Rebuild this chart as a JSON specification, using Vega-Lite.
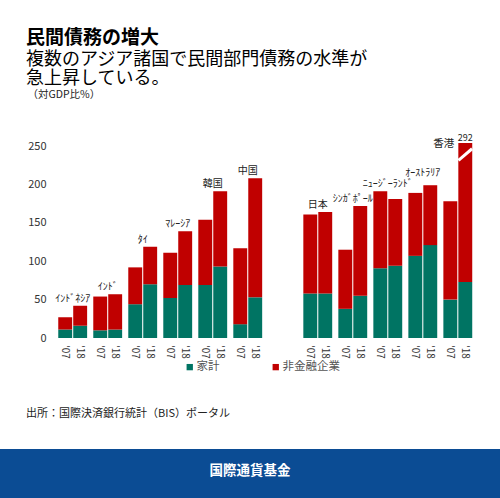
{
  "$schema": "https://vega.github.io/schema/vega-lite/v6.json",
  "padding": {"left": 0, "right": 0, "top": 29, "bottom": 0},
  "background": "white",
  "spacing": 49,
  "config": {
    "font": "Noto Sans CJK JP",
    "view": {"stroke": null},
    "axisY": {
      "labelOverlap": false,
      "offset": -55,
      "domain": false,
      "ticks": false,
      "grid": false,
      "labelPadding": 9,
      "labelFontSize": 11,
      "labelColor": "#333",
      "titleAngle": 0,
      "titleAlign": "left",
      "titleBaseline": "alphabetic",
      "titleX": -28,
      "titleY": -46,
      "titleFontSize": 10.5,
      "titleFontWeight": "normal",
      "titleColor": "#222"
    }
  },
  "vconcat": [
    {
      "width": 484,
      "height": 195,
      "view": {"fill": "white", "stroke": null},
      "title": {
        "text": "民間債務の増大",
        "subtitle": ["複数のアジア諸国で民間部門債務の水準が", "急上昇している。"],
        "anchor": "start",
        "frame": "group",
        "dx": 26,
        "offset": 1,
        "fontSize": 19,
        "fontWeight": "bold",
        "color": "#000",
        "subtitleFontSize": 18,
        "subtitleColor": "#000",
        "subtitleLineHeight": 19,
        "subtitlePadding": 3
      },
      "data": {
        "values": [
          {"country": "ｲﾝﾄﾞﾈｼｱ", "year": "'07", "type": "家計", "value": 11},
          {"country": "ｲﾝﾄﾞﾈｼｱ", "year": "'07", "type": "非金融企業", "value": 16},
          {"country": "ｲﾝﾄﾞﾈｼｱ", "year": "'18", "type": "家計", "value": 16},
          {"country": "ｲﾝﾄﾞﾈｼｱ", "year": "'18", "type": "非金融企業", "value": 26},
          {"country": "ｲﾝﾄﾞ", "year": "'07", "type": "家計", "value": 10},
          {"country": "ｲﾝﾄﾞ", "year": "'07", "type": "非金融企業", "value": 44},
          {"country": "ｲﾝﾄﾞ", "year": "'18", "type": "家計", "value": 11},
          {"country": "ｲﾝﾄﾞ", "year": "'18", "type": "非金融企業", "value": 46},
          {"country": "ﾀｲ", "year": "'07", "type": "家計", "value": 44},
          {"country": "ﾀｲ", "year": "'07", "type": "非金融企業", "value": 48},
          {"country": "ﾀｲ", "year": "'18", "type": "家計", "value": 70},
          {"country": "ﾀｲ", "year": "'18", "type": "非金融企業", "value": 49},
          {"country": "ﾏﾚｰｼｱ", "year": "'07", "type": "家計", "value": 52},
          {"country": "ﾏﾚｰｼｱ", "year": "'07", "type": "非金融企業", "value": 59},
          {"country": "ﾏﾚｰｼｱ", "year": "'18", "type": "家計", "value": 69},
          {"country": "ﾏﾚｰｼｱ", "year": "'18", "type": "非金融企業", "value": 70},
          {"country": "韓国", "year": "'07", "type": "家計", "value": 69},
          {"country": "韓国", "year": "'07", "type": "非金融企業", "value": 85},
          {"country": "韓国", "year": "'18", "type": "家計", "value": 93},
          {"country": "韓国", "year": "'18", "type": "非金融企業", "value": 98},
          {"country": "中国", "year": "'07", "type": "家計", "value": 18},
          {"country": "中国", "year": "'07", "type": "非金融企業", "value": 99},
          {"country": "中国", "year": "'18", "type": "家計", "value": 53},
          {"country": "中国", "year": "'18", "type": "非金融企業", "value": 155},
          {"country": "日本", "year": "'07", "type": "家計", "value": 58},
          {"country": "日本", "year": "'07", "type": "非金融企業", "value": 103},
          {"country": "日本", "year": "'18", "type": "家計", "value": 58},
          {"country": "日本", "year": "'18", "type": "非金融企業", "value": 106},
          {"country": "ｼﾝｶﾞﾎﾟｰﾙ", "year": "'07", "type": "家計", "value": 38},
          {"country": "ｼﾝｶﾞﾎﾟｰﾙ", "year": "'07", "type": "非金融企業", "value": 77},
          {"country": "ｼﾝｶﾞﾎﾟｰﾙ", "year": "'18", "type": "家計", "value": 55},
          {"country": "ｼﾝｶﾞﾎﾟｰﾙ", "year": "'18", "type": "非金融企業", "value": 117},
          {"country": "ﾆｭｰｼﾞｰﾗﾝﾄﾞ", "year": "'07", "type": "家計", "value": 91},
          {"country": "ﾆｭｰｼﾞｰﾗﾝﾄﾞ", "year": "'07", "type": "非金融企業", "value": 100},
          {"country": "ﾆｭｰｼﾞｰﾗﾝﾄﾞ", "year": "'18", "type": "家計", "value": 94},
          {"country": "ﾆｭｰｼﾞｰﾗﾝﾄﾞ", "year": "'18", "type": "非金融企業", "value": 87},
          {"country": "ｵｰｽﾄﾗﾘｱ", "year": "'07", "type": "家計", "value": 107},
          {"country": "ｵｰｽﾄﾗﾘｱ", "year": "'07", "type": "非金融企業", "value": 82},
          {"country": "ｵｰｽﾄﾗﾘｱ", "year": "'18", "type": "家計", "value": 121},
          {"country": "ｵｰｽﾄﾗﾘｱ", "year": "'18", "type": "非金融企業", "value": 78},
          {"country": "香港", "year": "'07", "type": "家計", "value": 50},
          {"country": "香港", "year": "'07", "type": "非金融企業", "value": 128},
          {"country": "香港", "year": "'18", "type": "家計", "value": 73},
          {"country": "香港", "year": "'18", "type": "非金融企業", "value": 219}
        ]
      },
      "encoding": {
        "x": {
          "field": "country",
          "type": "nominal",
          "sort": null,
          "axis": null,
          "scale": {
            "domain": ["ｲﾝﾄﾞﾈｼｱ", "ｲﾝﾄﾞ", "ﾀｲ", "ﾏﾚｰｼｱ", "韓国", "中国", " ", "日本", "ｼﾝｶﾞﾎﾟｰﾙ", "ﾆｭｰｼﾞｰﾗﾝﾄﾞ", "ｵｰｽﾄﾗﾘｱ", "香港"],
            "paddingInner": 0.1755,
            "paddingOuter": 1.195,
            "align": 0.832
          }
        },
        "y": {
          "aggregate": "sum",
          "field": "value",
          "type": "quantitative",
          "title": "（対GDP比%）",
          "scale": {"domain": [0, 254], "nice": false, "clamp": true},
          "axis": {"values": [0, 50, 100, 150, 200, 250], "labelOverlap": false}
        }
      },
      "layer": [
        {
          "mark": {"type": "bar"},
          "encoding": {
            "xOffset": {"field": "year", "type": "nominal", "scale": {"paddingInner": 0.07, "paddingOuter": 0}},
            "color": {
              "field": "type",
              "type": "nominal",
              "scale": {"domain": ["家計", "非金融企業"], "range": ["#007463", "#c00000"]},
              "legend": {
                "orient": "none",
                "legendX": 184,
                "legendY": 218,
                "direction": "horizontal",
                "title": null,
                "symbolType": "square",
                "symbolSize": 40,
                "symbolStrokeWidth": 0,
                "labelFontSize": 11.5,
                "labelColor": "#555",
                "labelOffset": 1,
                "columnPadding": 50,
                "padding": 0
              }
            },
            "order": {"field": "type", "sort": "ascending"}
          }
        },
        {
          "transform": [{"filter": "datum.type === '家計'"}],
          "mark": {"type": "text", "angle": 90, "align": "left", "baseline": "middle", "dx": 7, "fontSize": 10, "color": "#333"},
          "encoding": {
            "xOffset": {"field": "year", "type": "nominal"},
            "y": {"datum": 0, "type": "quantitative"},
            "text": {"field": "year"}
          }
        },
        {
          "transform": [
            {"aggregate": [{"op": "sum", "field": "value", "as": "total"}], "groupby": ["country", "year"]},
            {"aggregate": [{"op": "max", "field": "total", "as": "top"}], "groupby": ["country"]},
            {"filter": "datum.country !== '香港' && datum.country !== 'ｵｰｽﾄﾗﾘｱ'"}
          ],
          "mark": {"type": "text", "baseline": "bottom", "dy": -2, "fontSize": 10, "color": "#222"},
          "encoding": {
            "y": {"field": "top", "type": "quantitative"},
            "text": {"field": "country"}
          }
        },
        {
          "transform": [
            {"aggregate": [{"op": "sum", "field": "value", "as": "total"}], "groupby": ["country", "year"]},
            {"aggregate": [{"op": "max", "field": "total", "as": "top"}], "groupby": ["country"]},
            {"filter": "datum.country === 'ｵｰｽﾄﾗﾘｱ'"}
          ],
          "mark": {"type": "text", "baseline": "bottom", "dy": -7, "fontSize": 10, "color": "#222"},
          "encoding": {
            "y": {"field": "top", "type": "quantitative"},
            "text": {"field": "country"}
          }
        },
        {
          "transform": [
            {"aggregate": [{"op": "sum", "field": "value", "as": "total"}], "groupby": ["country", "year"]},
            {"filter": "datum.country === '香港' && datum.year === \"'18\""}
          ],
          "mark": {"type": "text", "align": "right", "baseline": "middle", "dx": -11, "dy": 1, "fontSize": 10.5, "color": "#222"},
          "encoding": {
            "xOffset": {"field": "year", "type": "nominal"},
            "y": {"field": "total", "type": "quantitative"},
            "text": {"field": "country"}
          }
        },
        {
          "transform": [
            {"aggregate": [{"op": "sum", "field": "value", "as": "total"}], "groupby": ["country", "year"]},
            {"filter": "datum.country === '香港' && datum.year === \"'18\""}
          ],
          "mark": {"type": "text", "baseline": "bottom", "dy": 0, "fontSize": 9, "color": "#222"},
          "encoding": {
            "xOffset": {"field": "year", "type": "nominal"},
            "y": {"field": "total", "type": "quantitative"},
            "text": {"field": "total"}
          }
        },
        {
          "transform": [
            {"filter": "datum.country === '香港' && datum.year === \"'18\" && datum.type === '家計'"}
          ],
          "mark": {"type": "point", "shape": "M -1 0.85 L 1 -0.85", "size": 185, "filled": false, "stroke": "white", "strokeWidth": 3, "opacity": 1},
          "encoding": {
            "xOffset": {"field": "year", "type": "nominal"},
            "y": {"datum": 239, "type": "quantitative"}
          }
        }
      ]
    },
    {
      "width": 500,
      "height": 50,
      "title": {
        "text": "出所：国際決済銀行統計（BIS）ポータル",
        "anchor": "start",
        "frame": "group",
        "dx": 26,
        "offset": 30,
        "fontSize": 11,
        "fontWeight": "normal",
        "color": "#222"
      },
      "view": {"fill": "#0b4c94", "stroke": null},
      "data": {"values": [{"org": "国際通貨基金"}]},
      "mark": {"type": "text", "color": "white", "fontSize": 13.5, "fontWeight": "bold", "dy": -3},
      "encoding": {"text": {"field": "org"}}
    }
  ]
}
